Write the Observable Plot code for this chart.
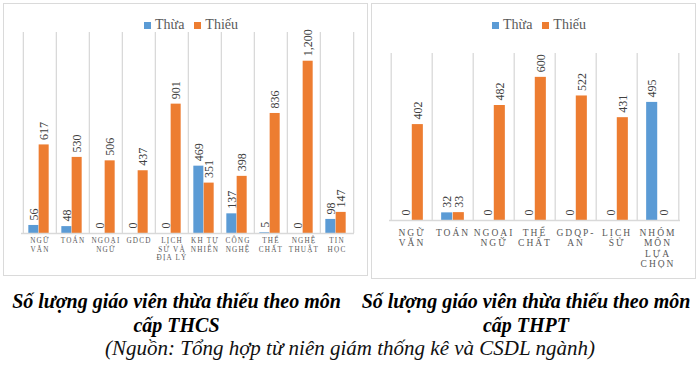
<!DOCTYPE html>
<html><head><meta charset="utf-8">
<style>
body{margin:0;background:#fff;}
#wrap{position:relative;width:700px;height:368px;overflow:hidden;font-family:'Liberation Serif',serif;background:#fff;}
.panel{position:absolute;border:1.5px solid #dadada;box-sizing:border-box;}
.chart{position:absolute;}
.legend{position:absolute;display:flex;align-items:center;font-size:14px;color:#595959;white-space:nowrap;line-height:16px;}
.legend span.item{display:inline-flex;align-items:center;margin-right:10px;}
.sw{display:inline-block;width:7px;height:7px;margin-right:4px;}
.title{position:absolute;text-align:center;font-weight:bold;font-style:italic;font-size:20px;line-height:24px;color:#000;white-space:nowrap;}
.caption{position:absolute;left:0;width:700px;text-align:center;font-style:italic;font-size:21px;line-height:21px;color:#111;white-space:nowrap;}
</style>
<script src="https://cdn.jsdelivr.net/npm/d3@7"></script>
<script src="https://cdn.jsdelivr.net/npm/@observablehq/plot@0.6"></script>
</head><body>
<div id="wrap"></div>
<script>
// ---- data ----
const seriesNames = ["Thừa", "Thiếu"];
const seriesColors = ["#5b9bd5", "#ed7d31"];

const thcsCategories = ["NGỮ\nVĂN","TOÁN","NGOẠI\nNGỮ","GDCD","LỊCH\nSỬ VÀ\nĐỊA LÝ","KH TỰ\nNHIÊN","CÔNG\nNGHỆ","THỂ\nCHẤT","NGHỆ\nTHUẬT","TIN\nHỌC"];
const thcsThua  = [56, 48, 0, 0, 0, 469, 137, 5, 0, 98];
const thcsThieu = [617, 530, 506, 437, 901, 351, 398, 836, 1200, 147];
const thcsYMax = 1400;

const thptCategories = ["NGỮ\nVĂN","TOÁN","NGOẠI\nNGỮ","THỂ\nCHẤT","GDQP-\nAN","LỊCH\nSỬ","NHÓM\nMÔN\nLỰA\nCHỌN"];
const thptThua  = [0, 32, 0, 0, 0, 0, 495];
const thptThieu = [402, 33, 482, 600, 522, 431, 0];
const thptYMax = 700;

const titleTHCS = ["Số lượng giáo viên thừa thiếu theo môn", "cấp THCS"];
const titleTHPT = ["Số lượng giáo viên thừa thiếu theo môn", "cấp THPT"];
const captionText = "(Nguồn: Tổng hợp từ niên giám thống kê và CSDL ngành)";

// ---- drawing ----
const FONT = "'Liberation Serif', serif";
const wrap = document.getElementById("wrap");
const fmt = d3.format(",");

function addDiv(cls, style, text) {
  const d = document.createElement("div");
  d.className = cls;
  Object.assign(d.style, style);
  if (Array.isArray(text)) {
    text.forEach((t, i) => { if (i) d.appendChild(document.createElement("br")); d.appendChild(document.createTextNode(t)); });
  } else if (text != null) d.textContent = text;
  wrap.appendChild(d);
  return d;
}

function makeChart(cfg) {
  const {cats, thua, thieu, yMax, width, height, m, frac, fontSize, letterSpacing, lineHeight, tickPadding} = cfg;
  const rows = [];
  cats.forEach((c, i) => {
    rows.push({cat: c, s: 0, v: thua[i]});
    rows.push({cat: c, s: 1, v: thieu[i]});
  });
  const bw = (width - m.left - m.right) / cats.length;
  const centerOff = (k) => bw * ((frac[k] + frac[k + 1]) / 2 - 0.5);
  const rowsS = (k) => rows.filter(r => r.s === k);
  const barMarks = [0, 1].map(k => Plot.barY(rowsS(k), {
    x: "cat", y: "v", fill: seriesColors[k],
    insetLeft: bw * frac[k], insetRight: bw - bw * frac[k + 1]
  }));
  const labelMarks = [0, 1].map(k => Plot.text(rowsS(k), {
    x: "cat", y: "v", text: d => fmt(d.v), rotate: -90, textAnchor: "start",
    dx: centerOff(k), dy: -5, fontSize: 12, fill: "#404040"
  }));
  const svg = Plot.plot({
    width, height,
    marginLeft: m.left, marginRight: m.right, marginTop: m.top, marginBottom: m.bottom,
    style: {background: "transparent", overflow: "visible", fontFamily: FONT},
    x: {domain: cats, padding: 0, axis: null},
    y: {domain: [0, yMax], axis: null},
    marks: [
      Plot.ruleX(cats, {x: d => d, dx: -bw / 2, stroke: "#d9d9d9", strokeWidth: 1.3}),
      Plot.ruleX(cats.slice(-1), {x: d => d, dx: bw / 2, stroke: "#d9d9d9", strokeWidth: 1.3}),
      ...barMarks,
      Plot.ruleY([0], {stroke: "#d9d9d9", strokeWidth: 1.3}),
      ...labelMarks,
      Plot.axisX({tickSize: 0, tickPadding, fontSize, lineHeight, fill: "#595959",
        tickFormat: d => d, label: null})
    ]
  });
  d3.select(svg).selectAll('g[aria-label="x-axis tick label"] text').attr("letter-spacing", letterSpacing);
  return svg;
}

function legend(left, top) {
  const lg = addDiv("legend", {left: left + "px", top: top + "px"});
  seriesNames.forEach((n, k) => {
    const it = document.createElement("span");
    it.className = "item";
    const sw = document.createElement("span");
    sw.className = "sw";
    sw.style.background = seriesColors[k];
    it.appendChild(sw);
    it.appendChild(document.createTextNode(n));
    lg.appendChild(it);
  });
}

// panels
addDiv("panel", {left: "3px", top: "3px", width: "365px", height: "273px"});
addDiv("panel", {left: "371px", top: "3px", width: "325px", height: "276px"});

const svg1 = makeChart({cats: thcsCategories, thua: thcsThua, thieu: thcsThieu, yMax: thcsYMax,
  width: 370, height: 270, m: {left: 21, right: 16, top: 32, bottom: 37},
  frac: [0.16, 0.47, 0.78], fontSize: 7.2, letterSpacing: 1.2, lineHeight: 1.15, tickPadding: 4});
const c1 = addDiv("chart", {left: "0px", top: "0px"});
c1.appendChild(svg1);

const svg2 = makeChart({cats: thptCategories, thua: thptThua, thieu: thptThieu, yMax: thptYMax,
  width: 340, height: 275, m: {left: 29, right: 20, top: 53, bottom: 55},
  frac: [0.22, 0.5, 0.78], fontSize: 9.5, letterSpacing: 2, lineHeight: 1.1, tickPadding: 8});
const c2 = addDiv("chart", {left: "360px", top: "0px"});
c2.appendChild(svg2);

legend(144, 17);
legend(492, 17);

// titles and caption
addDiv("title", {left: "0px", width: "353px", top: "289px"}, titleTHCS);
addDiv("title", {left: "350px", width: "352px", top: "289px"}, titleTHPT);
addDiv("caption", {top: "338px"}, captionText);
</script>
</body></html>
